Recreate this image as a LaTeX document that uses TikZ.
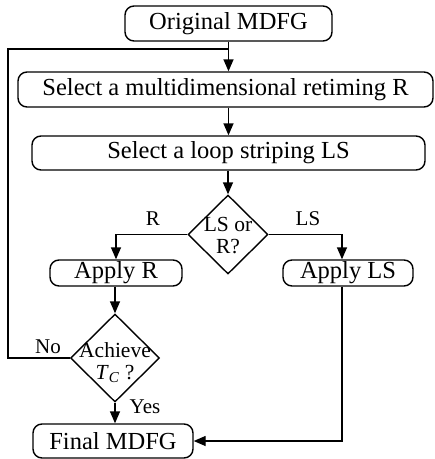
\documentclass[tikz,border=0pt]{standalone}
\usepackage{fontspec}
\setmainfont{Liberation Serif}
\usetikzlibrary{arrows.meta}
\usetikzlibrary{shapes.geometric}

\tikzset{
  procbox/.style={draw, rounded corners=9pt, line width=1.4pt, inner sep=0pt,
                  font=\fontsize{24.5}{28}\selectfont},
  decide/.style={draw, diamond, line width=1.4pt, inner sep=0pt},
  intext/.style={align=center, font=\fontsize{21.5}{22}\selectfont},
  flow/.style={line width=1.4pt, -{Triangle[length=12pt,width=10pt]}},
  branch/.style={font=\fontsize{21}{22}\selectfont}
}

\begin{document}
\begin{tikzpicture}[x=1pt,y=-1pt]
\useasboundingbox (0,0) rectangle (435,459);

% boxes
\node[procbox, minimum width=207pt, minimum height=35pt] (orig)    at (228.5,23.5) {Original MDFG};
\node[procbox, minimum width=415pt, minimum height=35pt] (selR)    at (225.5,89.5) {Select a multidimensional retiming R};
\node[procbox, minimum width=393pt, minimum height=34pt] (selLS)   at (228.5,153)  {Select a loop striping LS};
\node[procbox, minimum width=132pt, minimum height=26pt] (applyR)  at (116,273)    {Apply R};
\node[procbox, minimum width=130pt, minimum height=26pt] (applyLS) at (348,273)    {Apply LS};
\node[procbox, minimum width=160pt, minimum height=34pt] (final)   at (113,441)    {Final MDFG};

% decisions
\node[decide, minimum width=80pt, minimum height=79pt,
      label={[intext, yshift=-1pt]center:LS or\\R?}] (lsr) at (228,234.5) {};
\node[decide, minimum width=89pt, minimum height=88pt,
      label={[intext, yshift=-5pt]center:Achieve\\\textit{T}\textsubscript{\textit{C}} ?}] (achieve) at (115,358) {};

% main spine
\coordinate (fb) at (orig.south |- 0,49);
\draw[flow] (orig.south) -- (orig.south |- selR.north);
\draw[flow] (selR.south -| orig.south) -- (selLS.north -| orig.south);
\draw[flow] (selLS.south -| lsr.north) -- (lsr.north);

% branches
\draw[flow] (lsr.west) -| (applyR.north);
\draw[flow] (lsr.east) -| ([xshift=-6pt]applyLS.north);
\node[branch] (labR)  at (153,219) {R};
\node[branch] (labLS) at (308,219) {LS};

\draw[flow] (applyR.south -| achieve.north) -- (achieve.north);
\draw[flow] (achieve.south) -- (achieve.south |- final.north);
\draw[flow] ([xshift=-6pt]applyLS.south) |- (final.east);
\node[branch] (labYes) at (145,407) {Yes};

% feedback
\draw[line width=1.4pt] (achieve.west) -- (8,358) |- (fb);
\node[branch] (labNo) at (48,347) {No};
\end{tikzpicture}
\end{document}
